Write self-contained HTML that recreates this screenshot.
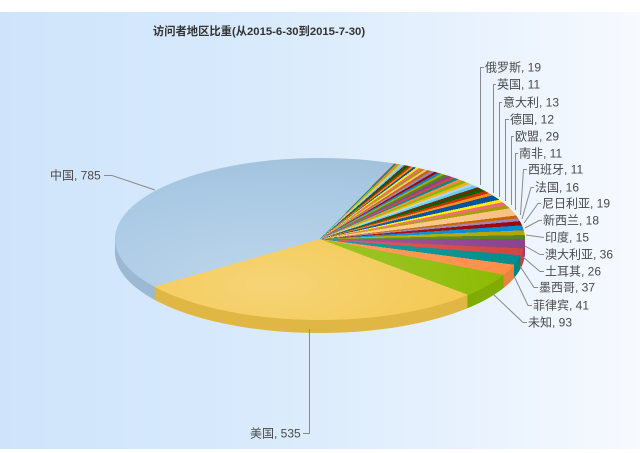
<!DOCTYPE html>
<html>
<head>
<meta charset="utf-8">
<style>
html,body{margin:0;padding:0;background:#fff;}
#wrap{position:relative;width:640px;height:453px;overflow:hidden;background:#fff;}
.bg{position:absolute;left:0;top:12px;width:640px;height:437px;
 background:linear-gradient(to right,#cfe4fb 0%,#d8eafc 40%,#e6f1fd 70%,#f7faff 100%);}
.pie{position:absolute;left:115px;top:34px;width:410px;height:410px;border-radius:50%;
 transform:scaleY(0.3951);transform-origin:50% 50%;
 background:conic-gradient(from 234deg,
#a9c9e4 0deg 147.19deg,
#D64646 147.19deg 147.56deg,
#008E8E 147.56deg 147.94deg,
#FF8E46 147.94deg 148.31deg,
#8BBA00 148.31deg 148.69deg,
#F6BD0F 148.69deg 149.25deg,
#AFD8F8 149.25deg 149.81deg,
#6DCFF6 149.81deg 150.38deg,
#663300 150.38deg 150.94deg,
#006600 150.94deg 151.69deg,
#CC3300 151.69deg 152.44deg,
#F7941C 152.44deg 153.19deg,
#0054A6 153.19deg 153.94deg,
#FFF200 153.94deg 154.88deg,
#F26D7D 154.88deg 155.81deg,
#ABA000 155.81deg 156.75deg,
#FDC689 156.75deg 157.69deg,
#CC6600 157.69deg 158.81deg,
#A186BE 158.81deg 159.94deg,
#9D080D 159.94deg 161.06deg,
#008ED6 161.06deg 162.19deg,
#B3AA00 162.19deg 163.31deg,
#588526 163.31deg 164.63deg,
#8E468E 164.63deg 165.94deg,
#D64646 165.94deg 167.25deg,
#008E8E 167.25deg 168.56deg,
#FF8E46 168.56deg 170.06deg,
#8BBA00 170.06deg 171.56deg,
#F6BD0F 171.56deg 173.06deg,
#AFD8F8 173.06deg 174.56deg,
#6DCFF6 174.56deg 176.25deg,
#663300 176.25deg 177.94deg,
#006600 177.94deg 179.63deg,
#CC3300 179.63deg 181.5deg,
#F7941C 181.5deg 183.38deg,
#0054A6 183.38deg 186.94deg,
#FFF200 186.94deg 189deg,
#F26D7D 189deg 191.44deg,
#ABA000 191.44deg 193.69deg,
#FDC689 193.69deg 199.13deg,
#CC6600 199.13deg 201.19deg,
#A186BE 201.19deg 203.25deg,
#9D080D 203.25deg 206.25deg,
#008ED6 206.25deg 209.81deg,
#B3AA00 209.81deg 213.19deg,
#588526 213.19deg 216deg,
#8E468E 216deg 222.75deg,
#D64646 222.75deg 227.63deg,
#008E8E 227.63deg 234.56deg,
#FF8E46 234.56deg 242.25deg,
#8BBA00 242.25deg 259.69deg,
#f3c64a 259.69deg 360deg);}
.side{position:absolute;left:0;top:0;width:640px;height:453px;filter:brightness(0.92);}
.shade{background:radial-gradient(circle at 38% 78%,rgba(255,255,255,0.25) 0%,rgba(255,255,255,0.10) 35%,rgba(255,255,255,0) 60%,rgba(0,0,0,0.08) 100%);}
svg{position:absolute;left:0;top:0;}
.lbl{font-family:"Liberation Sans","Noto Sans CJK SC",sans-serif;font-size:12px;fill:#4a4a4a;}
.ttl{font-family:"Liberation Sans","Noto Sans CJK SC",sans-serif;font-size:11.3px;font-weight:bold;fill:#333;}
</style>
</head>
<body>
<div id="wrap">
<div class="bg"></div>
<div class="side">
<div class="pie" style="top:47px"></div>
<div class="pie" style="top:46px"></div>
<div class="pie" style="top:45px"></div>
<div class="pie" style="top:44px"></div>
<div class="pie" style="top:43px"></div>
<div class="pie" style="top:42px"></div>
<div class="pie" style="top:41px"></div>
<div class="pie" style="top:40px"></div>
<div class="pie" style="top:39px"></div>
<div class="pie" style="top:38px"></div>
<div class="pie" style="top:37px"></div>
<div class="pie" style="top:36px"></div>
<div class="pie" style="top:35px"></div>
</div>
<div class="pie"></div>
<div class="pie shade" style="background-color:transparent"></div>
<svg width="640" height="453" viewBox="0 0 640 453">
<text class="ttl" x="259" y="35" text-anchor="middle">访问者地区比重(从2015-6-30到2015-7-30)</text>
<g fill="none" stroke="#8a8a8a" stroke-width="1">
<polyline points="484,67.5 480.5,67.5 480.5,185"/>
<polyline points="496,84.5 493.5,84.5 493.5,193"/>
<polyline points="502,102.5 499.5,102.5 499.5,197"/>
<polyline points="509,119.5 505.5,119.5 505.5,201"/>
<polyline points="514,136.5 511.5,136.5 511.5,205"/>
<polyline points="518,153.5 515.5,153.5 515.5,210"/>
<polyline points="527,169.5 523.5,169.5 520.5,215"/>
<polyline points="534,187.5 531,187.5 522,219"/>
<polyline points="541,203.5 538,203.5 524,223"/>
<polyline points="542,220.5 539,220.5 525,228"/>
<polyline points="544,237.5 526,235"/>
<polyline points="544,254.5 540,254.5 525,246"/>
<polyline points="544,271.5 540,271.5 523,257"/>
<polyline points="538,287.5 534,287.5 520,266"/>
<polyline points="532,305.5 528,305.5 514,276"/>
<polyline points="527,322.5 523,322.5 493,294"/>
<polyline points="104,175.5 112,175.5 155,190"/>
<polyline points="303,433.5 309.5,433.5 309.5,329"/>
</g>
<text class="lbl" x="485" y="71.5">俄罗斯, 19</text>
<text class="lbl" x="497" y="88.5">英国, 11</text>
<text class="lbl" x="503" y="106.5">意大利, 13</text>
<text class="lbl" x="510" y="123.5">德国, 12</text>
<text class="lbl" x="515" y="140.5">欧盟, 29</text>
<text class="lbl" x="519" y="157.5">南非, 11</text>
<text class="lbl" x="528" y="173.5">西班牙, 11</text>
<text class="lbl" x="535" y="191.5">法国, 16</text>
<text class="lbl" x="542" y="207.5">尼日利亚, 19</text>
<text class="lbl" x="543" y="224.5">新西兰, 18</text>
<text class="lbl" x="545" y="241.5">印度, 15</text>
<text class="lbl" x="545" y="258.5">澳大利亚, 36</text>
<text class="lbl" x="545" y="275.5">土耳其, 26</text>
<text class="lbl" x="539" y="291.5">墨西哥, 37</text>
<text class="lbl" x="533" y="309.5">菲律宾, 41</text>
<text class="lbl" x="528" y="326.5">未知, 93</text>
<text class="lbl" x="50" y="179.5">中国, 785</text>
<text class="lbl" x="250" y="437.5">美国, 535</text>
</svg>
</div>
</body>
</html>
